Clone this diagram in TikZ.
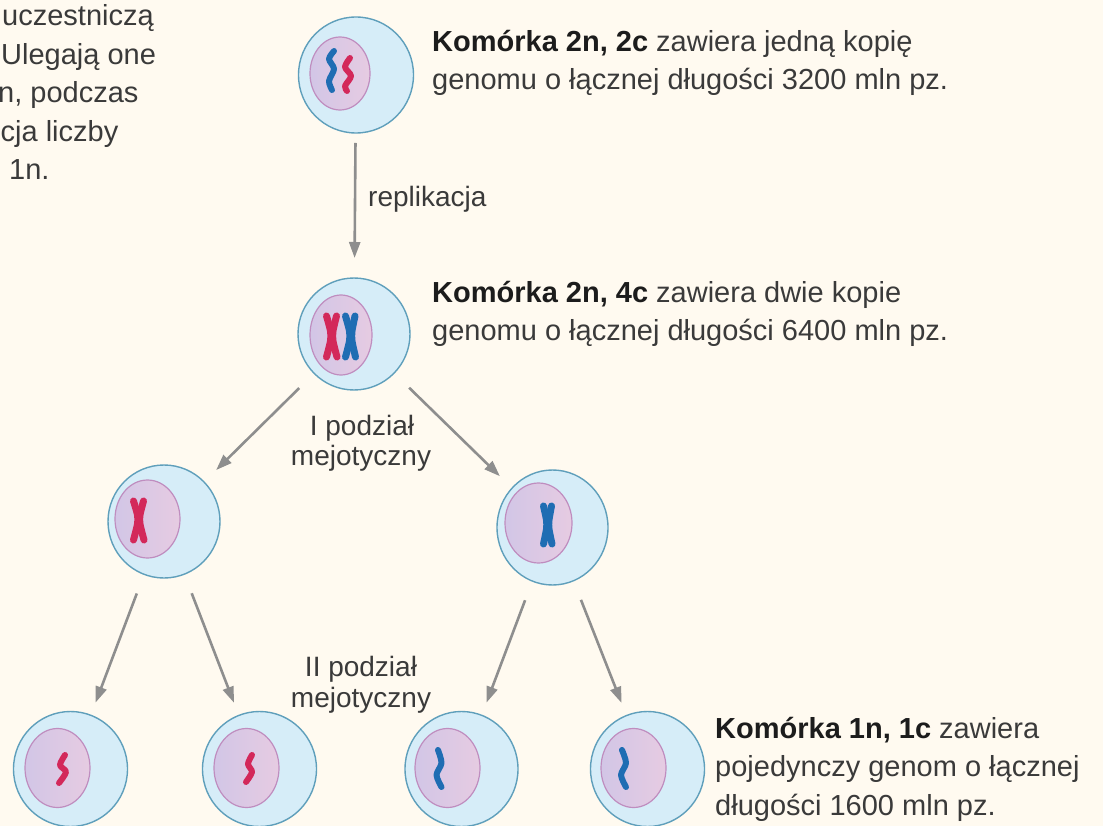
\documentclass[tikz,border=0pt]{standalone}
\usepackage{fontspec}
\setmainfont{Liberation Sans}
\usetikzlibrary{shapes.geometric,arrows.meta}

\definecolor{paper}{HTML}{FFFAF0}
\definecolor{cytofill}{HTML}{D6EDF8}
\definecolor{cytoline}{HTML}{5F9FBB}
\definecolor{nucA}{HTML}{D2C6E6}
\definecolor{nucB}{HTML}{E6CBE2}
\definecolor{nucline}{HTML}{BF8DBF}
\definecolor{chrred}{HTML}{D3285A}
\definecolor{chrblue}{HTML}{1F6DB3}
\definecolor{arrowgray}{HTML}{8E8E8E}
\definecolor{ink}{HTML}{3A3A3A}
\definecolor{inkbold}{HTML}{1C1C1C}

\begin{document}
\begin{tikzpicture}[x=1pt,y=-1pt,
  cell/.style={ellipse, draw=cytoline, fill=cytofill, line width=1.4pt,
    inner sep=0pt, outer sep=0pt, minimum width=114pt, minimum height=115pt},
  nucleus/.style={ellipse, draw=nucline, left color=nucA, right color=nucB,
    line width=1.2pt, inner sep=0pt, outer sep=0pt,
    minimum width=65pt, minimum height=79pt},
  arr/.style={draw=arrowgray, line width=2.6pt,
    -{Triangle[length=16pt,width=11pt]}},
  chrom/.style={line width=7pt, line cap=round, line join=round},
  thread/.style={line width=6pt, line cap=round, line join=round},
  txt/.style={anchor=base west, inner sep=0pt, text=ink,
    font=\fontsize{29}{38.5}\selectfont},
  lbl/.style={anchor=base, inner sep=0pt, text=ink,
    font=\fontsize{28}{30.5}\selectfont}]

% page
\fill[paper] (0,0) rectangle (1103,826);
\useasboundingbox (0,0) rectangle (1103,826);

% cells (cytoplasm)
\node[cell, minimum width=115pt, minimum height=116pt] (c1) at (356,75) {};
\node[cell, minimum width=112pt, minimum height=112pt] (c2) at (354,334) {};
\node[cell, minimum width=112pt, minimum height=113pt] (l1) at (164,521.5) {};
\node[cell, minimum width=111pt, minimum height=115pt] (r1) at (552.5,527.5) {};
\node[cell] (b1) at (70.5,769) {};
\node[cell] (b2) at (259.5,769) {};
\node[cell, minimum width=113pt] (b3) at (461.5,769) {};
\node[cell] (b4) at (647.5,769) {};

% nuclei
\node[nucleus, minimum width=60pt, minimum height=73pt] (n1) at (340,73.5) {};
\node[nucleus, minimum width=62pt, minimum height=80pt] (n2) at (341,335) {};
\node[nucleus, minimum height=78pt] (nl1) at (147.5,519) {};
\node[nucleus, minimum width=67pt, minimum height=80pt] (nr1) at (538.5,523) {};
\node[nucleus] (nb1) at (57.5,768) {};
\node[nucleus] (nb2) at (246.5,768) {};
\node[nucleus] (nb3) at (447.5,768) {};
\node[nucleus] (nb4) at (633.5,768) {};

% arrows
\draw[arr, shorten <=10pt, shorten >=20pt] (c1) -- (c2);
\draw[arr, shorten <=21pt, shorten >=17pt] (c2) -- (l1);
\draw[arr, shorten <=21pt, shorten >=17pt] (c2) -- (r1);
\draw[arr, shorten <=20.5pt, shorten >=13.6pt] (l1) -- (b1);
\draw[arr, shorten <=20.5pt, shorten >=13.6pt] (l1) -- (b2);
\draw[arr, shorten <=20.5pt, shorten >=13.6pt] (r1) -- (b3);
\draw[arr, shorten <=20.5pt, shorten >=13.6pt] (r1) -- (b4);

% chromosomes: 2n, 2c
\draw[thread, chrblue] plot[smooth] coordinates {(334,51) (329,59) (334,69) (329,81) (332,90)};
\draw[thread, chrred] plot[smooth] coordinates {(350,58) (345,67) (351,76) (345,86) (347,91)};

% chromosomes: 2n, 4c
\draw[chrom, chrred] plot[smooth] coordinates {(326.5,316) (330.5,331) (330.5,341) (326.5,357)};
\draw[chrom, chrred] plot[smooth] coordinates {(336.5,316) (333,331) (333,341) (337,357)};
\draw[chrom, chrblue] plot[smooth] coordinates {(345.5,316) (349.5,331) (349.5,341) (345.5,357)};
\draw[chrom, chrblue] plot[smooth] coordinates {(355,316) (352,331) (352,341) (355.5,357)};

% chromosomes after the first division
\draw[chrom, chrred] plot[smooth] coordinates {(133.5,501) (137.5,515) (137.5,524) (133.5,540)};
\draw[chrom, chrred] plot[smooth] coordinates {(143.5,501) (140,515) (140,524) (144,540)};
\draw[chrom, chrblue] plot[smooth] coordinates {(543.5,506) (546.5,520) (546.5,529) (543.5,544)};
\draw[chrom, chrblue] plot[smooth] coordinates {(551.5,506) (549,520) (549,529) (552,544)};

% chromosomes after the second division
\draw[thread, chrred] plot[smooth] coordinates {(65,755) (60,765) (66,772) (59,783)};
\draw[thread, chrred] plot[smooth] coordinates {(252,755) (248,764) (252,772) (246,782)};
\draw[thread, chrblue] plot[smooth] coordinates {(438,750) (441.5,763) (436.5,775) (441.5,787)};
\draw[thread, chrblue] plot[smooth] coordinates {(622,750) (626,763) (621,775) (626,787)};

% paragraph fragment, upper left
\node[txt] (p1) at (2,26) {uczestniczą};
\node[txt] (p2) at (1,64.5) {Ulegają one};
\node[txt] (p3) at (-2,103) {n, podczas};
\node[txt] (p4) at (0.5,141.5) {cja liczby};
\node[txt] (p5) at (9,180) {1n.};

% descriptions
\node[txt] (d1a) at (432,51.5) {\textcolor{inkbold}{\textbf{Komórka 2n, 2c}} zawiera jedną kopię};
\node[txt] (d1b) at (432,90) {genomu o łącznej długości 3200 mln pz.};
\node[txt] (d2a) at (432,302) {\textcolor{inkbold}{\textbf{Komórka 2n, 4c}} zawiera dwie kopie};
\node[txt] (d2b) at (432,340.5) {genomu o łącznej długości 6400 mln pz.};
\node[txt] (d3a) at (715,738) {\textcolor{inkbold}{\textbf{Komórka 1n, 1c}} zawiera};
\node[txt] (d3b) at (715,776.5) {pojedynczy genom o łącznej};
\node[txt] (d3c) at (715,815) {długości 1600 mln pz.};

% process labels
\node[txt, font=\fontsize{28}{30.5}\selectfont] (rep) at (368,207) {replikacja};
\node[lbl] (m1a) at (362,435) {I podział};
\node[lbl] (m1b) at (361,465.5) {mejotyczny};
\node[lbl] (m2a) at (361,676) {II podział};
\node[lbl] (m2b) at (361,707) {mejotyczny};
\end{tikzpicture}
\end{document}
